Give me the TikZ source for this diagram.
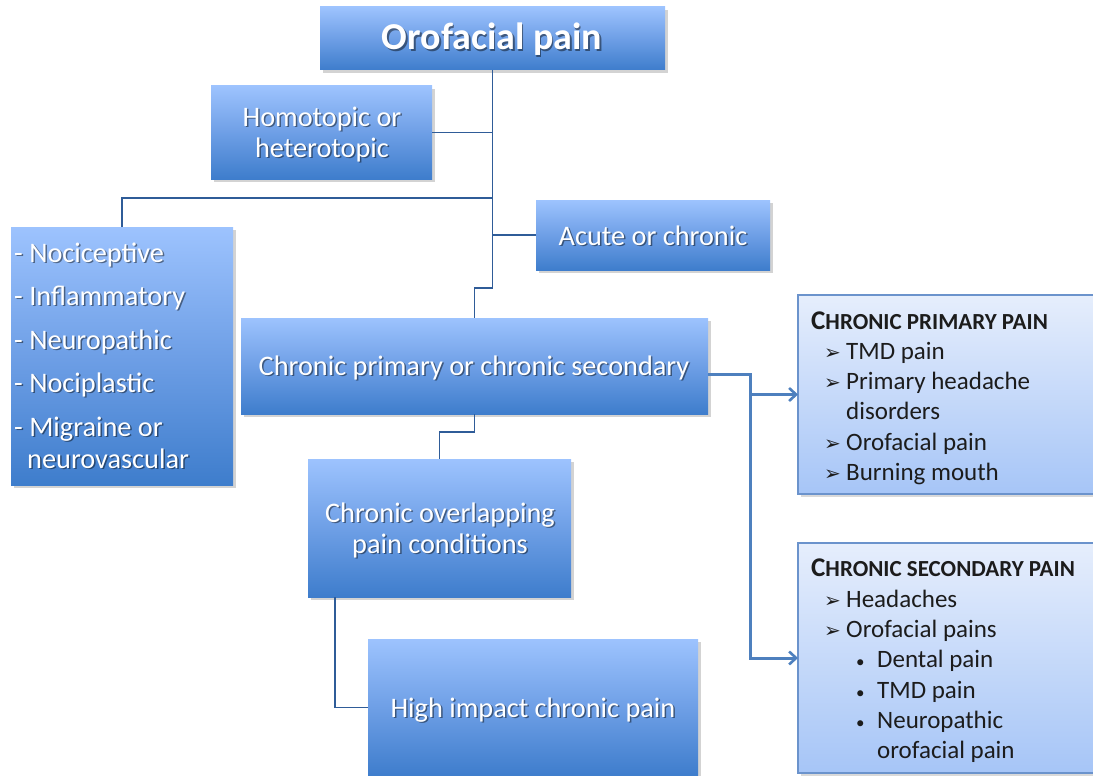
\documentclass[tikz,border=0pt]{standalone}
\usepackage{fontspec}
\setmainfont{Carlito}
\newfontfamily\dejavu{DejaVu Sans}
\usetikzlibrary{shadows,arrows.meta,calc}
\definecolor{boxtop}{HTML}{9DC3FE}
\definecolor{boxmid}{HTML}{6E9FE6}
\definecolor{boxbot}{HTML}{3E7DCC}
\definecolor{rtop}{HTML}{E6EEFC}
\definecolor{rbot}{HTML}{A6C5F7}
\definecolor{rborder}{HTML}{6B93CC}
\definecolor{conn}{HTML}{2F5C98}
\definecolor{arrowc}{HTML}{4E80BE}
\definecolor{darktext}{HTML}{1C1C1C}
\tikzset{
  bluebox/.style={rectangle, inner sep=0pt, outer sep=0pt, top color=boxtop, bottom color=boxbot, middle color=boxmid,
    drop shadow={shadow xshift=3pt, shadow yshift=-3pt, opacity=0.35}},
  lightbox/.style={rectangle, inner sep=0pt, outer sep=0pt, top color=rtop, bottom color=rbot, draw=rborder, line width=1.3pt,
    drop shadow={shadow xshift=3pt, shadow yshift=-3pt, opacity=0.3}},
  wtext/.style={inner sep=0pt, text=white, font=\fontsize{28.3}{32}\selectfont},
  rtext/.style={inner sep=0pt, text=darktext, font=\fontsize{25}{29}\selectfont, anchor=base west},
  conn/.style={draw=conn, line width=1.2pt},
  arrow/.style={draw=arrowc, line width=3pt, -{Straight Barb[length=7pt, width=13pt, line width=2.6pt]}}
}
\newcommand\arrb{{\dejavu\fontsize{20}{22}\selectfont ➢}}
\newcommand\dotb{{\fontsize{17}{20}\selectfont •}}
\newcommand\hd[2]{{\bfseries\fontsize{27}{30}\selectfont #1{\fontsize{23}{26}\selectfont #2}}}
% name, anchor, position (x,y without parentheses), text
\newcommand\wtxt[4]{%
  \node[wtext, anchor=#2, text=black, opacity=0.45] (#1s) at ([xshift=1.5pt,yshift=-1.5pt]#3) {#4};
  \node[wtext, anchor=#2] (#1) at (#3) {#4};}
\begin{document}
\begin{tikzpicture}[x=1pt,y=-1pt]
\useasboundingbox (0,0) rectangle (1093,776);
% boxes
\node[bluebox, minimum width=345pt, minimum height=63pt] (title) at (492.5,38.5) {};
\node[bluebox, minimum width=221pt, minimum height=93pt] (homo) at (321.5,132.5) {};
\node[bluebox, minimum width=222pt, minimum height=258pt] (list) at (122,356) {};
\node[bluebox, minimum width=234pt, minimum height=70pt] (acute) at (653,235) {};
\node[bluebox, minimum width=467pt, minimum height=96pt] (cp) at (474.5,366) {};
\node[bluebox, minimum width=263pt, minimum height=138pt] (over) at (439.5,528) {};
\node[bluebox, minimum width=330pt, minimum height=137pt] (high) at (533,707.5) {};
\node[lightbox, minimum width=296pt, minimum height=199pt] (prim) at (946,394.5) {};
\node[lightbox, minimum width=296pt, minimum height=230pt] (sec) at (946,658) {};
% connectors
\draw[conn] (title.south) -- ++(0,218) -| (cp.north);
\draw[conn] (homo.east) -- (title.south |- homo.east);
\coordinate (j2) at (492,198);
\draw[conn] (list.north) |- (j2);
\draw[conn] (acute.west) -- (title.south |- acute.west);
\draw[conn] (cp.south) -- ++(0,18) -| (over.north);
\draw[conn] ([xshift=27pt]over.south west) |- (high.west);
\coordinate (k1) at (750,374);
\draw[arrow] ([yshift=-8pt]cp.east) -- (k1) |- (sec.west);
\draw[arrow] (k1 |- prim.west) -- (prim.west);
% white texts
\wtxt{tt}{base}{492,50}{\bfseries\fontsize{38}{41}\selectfont Orofacial pain}
\wtxt{h1}{base}{322,126}{Homotopic or}
\wtxt{h2}{base}{322,157}{heterotopic}
\wtxt{l1}{base west}{14,262}{- Nociceptive}
\wtxt{l2}{base west}{14,305}{- Inflammatory}
\wtxt{l3}{base west}{14,349}{- Neuropathic}
\wtxt{l4}{base west}{14,392}{- Nociplastic}
\wtxt{l5}{base west}{14,436}{- Migraine or}
\wtxt{l6}{base west}{27,468}{neurovascular}
\wtxt{ac}{base}{653,245}{Acute or chronic}
\wtxt{cpt}{base}{474,375}{Chronic primary or chronic secondary}
\wtxt{o1}{base}{440,522}{Chronic overlapping}
\wtxt{o2}{base}{440,553}{pain conditions}
\wtxt{hi}{base}{533,717}{High impact chronic pain}
% right box: primary
\node[rtext] (ph) at (811,329) {\hd{C}{HRONIC PRIMARY PAIN}};
\node[rtext] (pb1) at (824,359) {\arrb};
\node[rtext] (pt1) at (846,359) {TMD pain};
\node[rtext] (pb2) at (824,389) {\arrb};
\node[rtext] (pt2) at (846,389) {Primary headache};
\node[rtext] (pt3) at (846,419) {disorders};
\node[rtext] (pb4) at (824,450) {\arrb};
\node[rtext] (pt4) at (846,450) {Orofacial pain};
\node[rtext] (pb5) at (824,480) {\arrb};
\node[rtext] (pt5) at (846,480) {Burning mouth};
% right box: secondary
\node[rtext] (sh) at (811,576) {\hd{C}{HRONIC SECONDARY PAIN}};
\node[rtext] (sb1) at (824,607) {\arrb};
\node[rtext] (st1) at (846,607) {Headaches};
\node[rtext] (sb2) at (824,637) {\arrb};
\node[rtext] (st2) at (846,637) {Orofacial pains};
\node[rtext] (sb3) at (856,667) {\dotb};
\node[rtext] (st3) at (877,667) {Dental pain};
\node[rtext] (sb4) at (856,698) {\dotb};
\node[rtext] (st4) at (877,698) {TMD pain};
\node[rtext] (sb5) at (856,728) {\dotb};
\node[rtext] (st5) at (877,728) {Neuropathic};
\node[rtext] (st6) at (877,758) {orofacial pain};
\end{tikzpicture}
\end{document}
